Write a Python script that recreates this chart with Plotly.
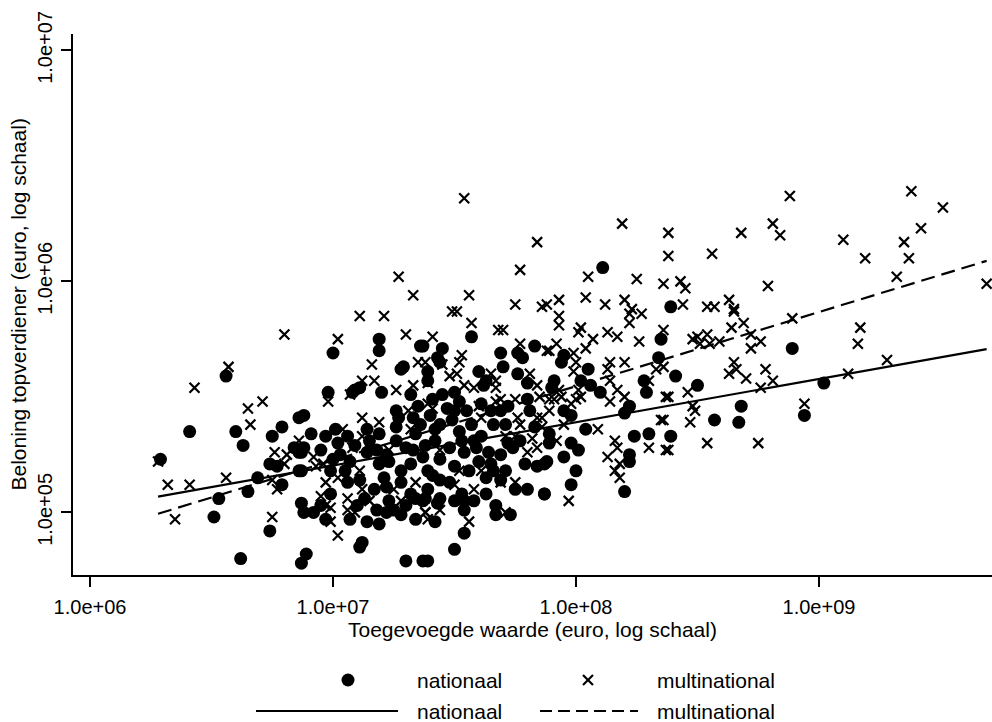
import numpy as np
import plotly.graph_objects as go

# ---- data (log10 of euro values) ----
# nationaal: x = toegevoegde waarde, y = beloning topverdiener
nat_log_va = [
    6.56, 6.41, 6.60, 6.63, 6.29, 6.79, 6.75, 6.86, 6.88, 6.74, 6.77, 6.86, 6.69, 6.79, 6.65,
    6.53, 6.51, 6.74, 6.87, 6.88, 6.62, 6.89, 6.87, 6.84, 6.86, 6.88, 7.19, 7.19, 7.00, 7.36,
    7.28, 7.29, 7.09, 7.11, 7.08, 7.20, 6.98, 7.39, 7.27, 7.35, 7.33, 6.91, 6.97, 7.01, 7.06,
    7.14, 7.19, 7.15, 6.87, 7.02, 7.00, 7.07, 7.05, 7.14, 7.18, 7.22, 6.87, 7.06, 6.99, 6.95,
    6.92, 6.97, 7.10, 7.13, 7.14, 7.18, 7.22, 7.28, 7.25, 7.21, 7.28, 7.32, 7.34, 7.37, 7.12,
    7.11, 7.30, 7.37, 7.26, 7.30, 7.34, 7.38, 7.23, 7.32, 7.28, 7.39, 7.26, 7.36, 7.19, 7.22,
    7.57, 7.37, 7.45, 7.43, 7.44, 7.83, 7.76, 7.78, 7.69, 7.70, 7.60, 7.39, 7.76, 7.80, 7.50,
    7.62, 7.63, 7.80, 7.72, 7.69, 7.47, 7.55, 7.66, 7.81, 7.83, 7.72, 7.74, 7.79, 7.84, 7.87,
    7.65, 7.66, 7.63, 7.80, 7.87, 7.63, 7.53, 7.54, 7.54, 7.44, 7.43, 7.39, 7.38, 7.67, 7.67,
    7.42, 7.54, 7.50, 7.39, 7.40, 7.44, 7.49, 7.52, 7.57, 7.61, 7.42, 7.48, 7.54, 7.59, 7.44,
    7.50, 7.56, 7.41, 7.48, 7.53, 7.64, 7.60, 7.69, 7.37, 7.61, 7.52, 7.45, 7.41, 7.33, 7.71,
    8.39, 8.35, 7.95, 7.94, 8.05, 8.34, 7.91, 7.90, 8.02, 8.06, 8.10, 8.28, 8.29, 7.95, 7.98,
    8.22, 8.20, 8.04, 7.89, 7.89, 7.98, 8.01, 8.24, 8.30, 8.22, 8.22, 7.95, 7.88, 8.00, 7.98,
    7.87, 8.20, 8.89, 8.41, 8.50, 8.68, 8.67, 8.57, 8.94, 8.39, 9.02, 8.11,
    6.95, 7.03, 7.09, 6.99, 7.11, 7.17, 7.23, 7.30, 7.07, 7.19, 7.34, 7.44, 7.50, 7.58, 7.71,
    7.75, 7.73, 7.26, 7.32, 7.42, 7.50, 7.58, 7.65, 7.77, 7.69,
]
nat_log_pay = [
    5.59, 5.35, 5.35, 5.29, 5.23, 5.37, 5.33, 5.41, 5.42, 5.21, 5.20, 5.18, 5.15, 5.12, 5.09,
    5.06, 4.98, 4.92, 5.04, 5.00, 4.80, 4.82, 4.78, 5.28, 5.26, 5.28, 5.75, 5.70, 5.69, 5.72,
    5.62, 5.63, 5.53, 5.54, 5.52, 5.52, 5.52, 5.57, 5.41, 5.46, 5.41, 5.34, 5.33, 5.36, 5.33,
    5.36, 5.34, 5.31, 5.26, 5.30, 5.23, 5.22, 5.18, 5.26, 5.27, 5.25, 5.18, 5.13, 5.08, 5.03,
    5.00, 4.97, 5.03, 5.06, 4.96, 5.01, 5.00, 4.99, 5.01, 5.15, 5.13, 5.08, 5.06, 5.05, 4.87,
    4.85, 4.79, 4.79, 5.31, 5.28, 5.34, 5.29, 5.22, 5.21, 5.18, 5.18, 5.37, 5.38, 5.21, 5.11,
    5.76, 5.72, 5.71, 5.67, 5.65, 5.72, 5.69, 5.67, 5.69, 5.63, 5.61, 5.61, 5.60, 5.56, 5.52,
    5.55, 5.57, 5.49, 5.46, 5.44, 5.45, 5.44, 5.38, 5.44, 5.37, 5.30, 5.28, 5.21, 5.20, 5.21,
    5.21, 5.18, 5.15, 5.10, 5.08, 5.08, 5.08, 5.05, 5.01, 5.06, 5.04, 5.10, 5.06, 5.03, 4.99,
    4.96, 4.91, 4.84, 4.79, 5.42, 5.38, 5.40, 5.35, 5.38, 5.33, 5.31, 5.28, 5.26, 5.28, 5.23,
    5.20, 5.18, 5.16, 5.13, 5.31, 5.26, 5.22, 5.25, 5.24, 5.47, 5.48, 5.51, 5.49, 5.27, 5.38,
    5.89, 5.75, 5.68, 5.65, 5.62, 5.67, 5.57, 5.54, 5.57, 5.55, 5.52, 5.57, 5.52, 5.44, 5.42,
    5.46, 5.43, 5.36, 5.34, 5.30, 5.30, 5.27, 5.33, 5.34, 5.25, 5.22, 5.24, 5.22, 5.18, 5.12,
    5.08, 5.09, 5.71, 5.59, 5.55, 5.46, 5.39, 5.40, 5.42, 5.33, 5.56, 6.06,
    5.27, 5.25, 5.29, 5.18, 5.14, 5.10, 5.05, 5.03, 4.97, 4.95, 4.97, 5.14, 5.05, 5.05, 5.18,
    5.10, 4.99, 5.44, 5.51, 5.36, 5.44, 5.31, 5.44, 5.31, 5.14,
]

# multinational
mul_log_va = [
    6.57, 6.43, 6.71, 6.65, 6.66, 6.76, 6.81, 6.86, 6.80, 6.75, 6.77, 6.32, 6.41, 6.56, 6.35,
    6.75, 6.28, 6.80, 7.02, 7.27, 7.33, 7.11, 7.21, 7.30, 7.41, 7.54, 7.84, 7.77, 8.05, 7.56,
    8.04, 7.49, 7.51, 7.75, 7.86, 7.88, 7.93, 7.93, 7.93, 7.57, 7.68, 7.70, 8.02, 8.01, 8.88,
    8.19, 8.38, 8.68, 8.81, 8.84, 8.38, 8.56, 8.25, 8.36, 8.43, 8.45, 8.79, 8.12, 8.20, 8.44,
    8.54, 8.57, 8.63, 8.23, 8.65, 9.38, 9.51, 9.42, 9.10, 9.35, 9.19, 9.37, 9.32, 9.69, 9.17,
    9.16, 9.28, 9.12, 8.94, 8.65, 8.69, 8.64, 8.89, 8.36, 8.48, 8.50, 8.54, 8.55, 8.51, 8.59,
    8.72, 8.76, 8.72, 8.36, 8.65, 8.66, 8.63, 8.70, 8.78, 8.81, 8.76, 8.46, 8.38, 8.48, 8.49,
    8.47, 8.36, 8.38, 8.54, 8.75, 8.22, 8.27, 8.22, 8.13, 8.17, 8.07, 8.26, 7.92, 7.89, 8.04,
    7.99, 8.14, 8.20, 8.13, 8.33, 8.00, 7.99, 8.14, 8.17, 8.20, 8.14, 7.93, 7.94, 7.91, 8.01,
    8.02, 8.00, 8.30, 8.37, 7.98, 7.95, 8.09, 7.86, 7.86, 7.92, 8.30, 8.35, 8.16, 8.17, 8.13,
    8.18, 8.16, 8.18, 7.97, 8.37, 7.53, 7.52, 7.77, 7.88, 7.38, 7.45, 7.48, 7.51, 7.39, 7.65,
    7.67, 7.67, 7.81, 7.84, 7.54, 7.58, 7.75, 7.69, 7.67, 7.60, 7.61, 7.39, 7.41, 7.85, 7.84,
    7.89, 7.89, 7.76, 7.77, 7.71, 7.75, 7.80, 7.84, 7.82, 7.69, 7.75, 7.58, 7.50, 7.44, 7.38,
    7.56, 7.71, 7.16, 7.35, 7.12, 7.17, 7.26, 7.33, 6.98, 7.07, 7.12, 7.19, 7.31, 7.04, 7.12,
    6.92, 6.93, 6.96, 7.08, 6.97, 7.02, 6.95, 6.99, 7.06, 7.06, 6.97, 6.99, 7.12, 7.09, 7.15,
    7.25, 7.28, 7.34, 7.38, 7.39, 7.02, 7.23, 7.32, 7.44, 7.52, 7.61, 7.11,
]
mul_log_pay = [
    5.63, 5.54, 5.48, 5.45, 5.38, 5.26, 5.25, 5.31, 5.21, 5.14, 5.10, 5.12, 5.12, 5.15, 4.97,
    4.98, 5.22, 5.77, 5.75, 6.02, 5.94, 5.85, 5.85, 5.77, 5.76, 6.36, 6.17, 6.05, 6.02, 5.94,
    5.93, 5.87, 5.87, 5.90, 5.89, 5.90, 5.92, 5.85, 5.81, 5.82, 5.79, 5.79, 5.80, 5.78, 6.37,
    6.25, 6.21, 6.21, 6.25, 6.20, 6.11, 6.12, 6.01, 5.99, 6.00, 5.97, 5.98, 5.90, 5.92, 5.90,
    5.89, 5.89, 5.92, 5.88, 5.88, 6.39, 6.32, 6.23, 6.18, 6.17, 6.10, 6.10, 6.02, 5.99, 5.80,
    5.73, 5.66, 5.60, 5.47, 5.87, 5.82, 5.80, 5.84, 5.79, 5.75, 5.76, 5.77, 5.73, 5.73, 5.74,
    5.77, 5.74, 5.71, 5.63, 5.65, 5.62, 5.60, 5.58, 5.62, 5.57, 5.54, 5.52, 5.50, 5.46, 5.44,
    5.39, 5.40, 5.27, 5.30, 5.30, 5.86, 5.86, 5.82, 5.78, 5.76, 5.75, 5.74, 5.73, 5.70, 5.71,
    5.69, 5.65, 5.65, 5.62, 5.62, 5.65, 5.61, 5.57, 5.53, 5.50, 5.48, 5.53, 5.50, 5.49, 5.53,
    5.50, 5.49, 5.57, 5.50, 5.47, 5.38, 5.36, 5.41, 5.37, 5.31, 5.28, 5.40, 5.31, 5.28, 5.24,
    5.21, 5.18, 5.15, 5.05, 5.27, 5.68, 5.65, 5.73, 5.70, 5.65, 5.64, 5.59, 5.60, 5.56, 5.60,
    5.57, 5.54, 5.60, 5.55, 5.55, 5.54, 5.49, 5.49, 5.48, 5.46, 5.41, 5.47, 5.45, 5.50, 5.41,
    5.44, 5.49, 5.41, 5.38, 5.33, 5.33, 5.26, 5.28, 5.32, 5.13, 5.13, 5.10, 5.12, 5.01, 5.00,
    4.96, 5.00, 5.64, 5.65, 5.57, 5.57, 5.53, 5.55, 5.48, 5.51, 5.41, 5.39, 5.44, 5.36, 5.33,
    5.24, 5.20, 5.21, 5.28, 5.13, 5.15, 5.07, 5.02, 5.06, 5.01, 5.03, 4.96, 5.10, 5.00, 5.05,
    5.10, 5.05, 5.13, 5.00, 4.97, 4.90, 5.27, 5.36, 5.27, 5.18, 5.18, 5.18,
]

# fitted lines (log10), endpoints
fit_log_va = [6.28, 9.69]
fit_nat_log_pay = [5.068, 5.707]
fit_mul_log_pay = [4.994, 6.089]

x_tickvals = [1e6, 1e7, 1e8, 1e9]
x_ticktext = ["1.0e+06", "1.0e+07", "1.0e+08", "1.0e+09"]
y_tickvals = [1e5, 1e6, 1e7]
y_ticktext = ["1.0e+05", "1.0e+06", "1.0e+07"]
legend_labels = ["nationaal", "multinational"]
x_title = "Toegevoegde waarde (euro, log schaal)"
y_title = "Beloning topverdiener (euro, log schaal)"

FONT = "Liberation Sans, Arial, Helvetica, sans-serif"
FS_TICK = 20
FS_TEXT = 21

def ten(a):
    return np.power(10.0, np.array(a, dtype=float))

fig = go.Figure()
fig.add_trace(go.Scatter(x=ten(nat_log_va), y=ten(nat_log_pay), mode="markers",
                         marker=dict(symbol="circle", size=13, color="black", line=dict(width=0)),
                         name=legend_labels[0], hoverinfo="skip"))
fig.add_trace(go.Scatter(x=ten(mul_log_va), y=ten(mul_log_pay), mode="markers",
                         marker=dict(symbol="x-thin", size=10, color="black",
                                     line=dict(width=2.2, color="black")),
                         name=legend_labels[1], hoverinfo="skip"))
fig.add_trace(go.Scatter(x=ten(fit_log_va), y=ten(fit_nat_log_pay), mode="lines",
                         line=dict(color="black", width=2.2), name=legend_labels[0], hoverinfo="skip"))
fig.add_trace(go.Scatter(x=ten(fit_log_va), y=ten(fit_mul_log_pay), mode="lines",
                         line=dict(color="black", width=2.2, dash="14px,7px"),
                         name=legend_labels[1], hoverinfo="skip"))

L, T, B, W, H = 73, 34, 147, 992, 722
pw = W - L
ph = H - T - B

def px(xp):
    return (xp - L) / pw

def py(yp):
    return (H - B - yp) / ph

axis_common = dict(type="log", showgrid=False, zeroline=False, showline=True,
                   linecolor="black", linewidth=1.5, ticks="outside", ticklen=10,
                   tickwidth=1.5, tickcolor="black", mirror=False,
                   tickfont=dict(family=FONT, size=FS_TICK, color="black"))

fig.update_layout(
    width=W, height=H, showlegend=False,
    margin=dict(l=L, r=0, t=T, b=B, pad=0),
    paper_bgcolor="white", plot_bgcolor="white",
    font=dict(family=FONT, size=FS_TEXT, color="black"),
    xaxis=dict(range=[5.930, 9.712], tickvals=x_tickvals, ticktext=x_ticktext,
               ticklabelstandoff=3, **axis_common),
    yaxis=dict(range=[4.729, 7.071], tickvals=y_tickvals, ticktext=y_ticktext,
               tickangle=-90, ticklabelstandoff=1, **axis_common),
)

annotations = [
    dict(text=x_title, x=0.5, y=py(629), xref="paper", yref="paper",
         xanchor="center", yanchor="middle", showarrow=False, font=dict(size=FS_TEXT)),
    dict(text=y_title, x=px(18), y=0.5, xref="paper", yref="paper", textangle=-90,
         xanchor="center", yanchor="middle", showarrow=False, font=dict(size=FS_TEXT)),
    dict(text=legend_labels[0], x=px(415), y=py(680), xref="paper", yref="paper",
         xanchor="left", yanchor="middle", showarrow=False, font=dict(size=FS_TEXT)),
    dict(text=legend_labels[1], x=px(655), y=py(680), xref="paper", yref="paper",
         xanchor="left", yanchor="middle", showarrow=False, font=dict(size=FS_TEXT)),
    dict(text=legend_labels[0], x=px(415), y=py(711), xref="paper", yref="paper",
         xanchor="left", yanchor="middle", showarrow=False, font=dict(size=FS_TEXT)),
    dict(text=legend_labels[1], x=px(655), y=py(711), xref="paper", yref="paper",
         xanchor="left", yanchor="middle", showarrow=False, font=dict(size=FS_TEXT)),
]
fig.update_layout(annotations=annotations)

shapes = [
    # legend key: circle
    dict(type="circle", xref="paper", yref="paper", x0=px(348 - 6.5), x1=px(348 + 6.5),
         y0=py(680 + 6.5), y1=py(680 - 6.5), fillcolor="black", line=dict(width=0)),
    # legend key: x
    dict(type="line", xref="paper", yref="paper", x0=px(588 - 5), x1=px(588 + 5),
         y0=py(680 - 5), y1=py(680 + 5), line=dict(color="black", width=2.2)),
    dict(type="line", xref="paper", yref="paper", x0=px(588 - 5), x1=px(588 + 5),
         y0=py(680 + 5), y1=py(680 - 5), line=dict(color="black", width=2.2)),
    # legend key: solid line
    dict(type="line", xref="paper", yref="paper", x0=px(256), x1=px(398),
         y0=py(711), y1=py(711), line=dict(color="black", width=2.2)),
    # legend key: dashed line
    dict(type="line", xref="paper", yref="paper", x0=px(540), x1=px(638),
         y0=py(711), y1=py(711), line=dict(color="black", width=2.2, dash="12px,6px")),
]
fig.update_layout(shapes=shapes)

fig.write_html("out.html", include_plotlyjs=True,
               config={"displayModeBar": False},
               post_script="document.body.style.margin='0';")
